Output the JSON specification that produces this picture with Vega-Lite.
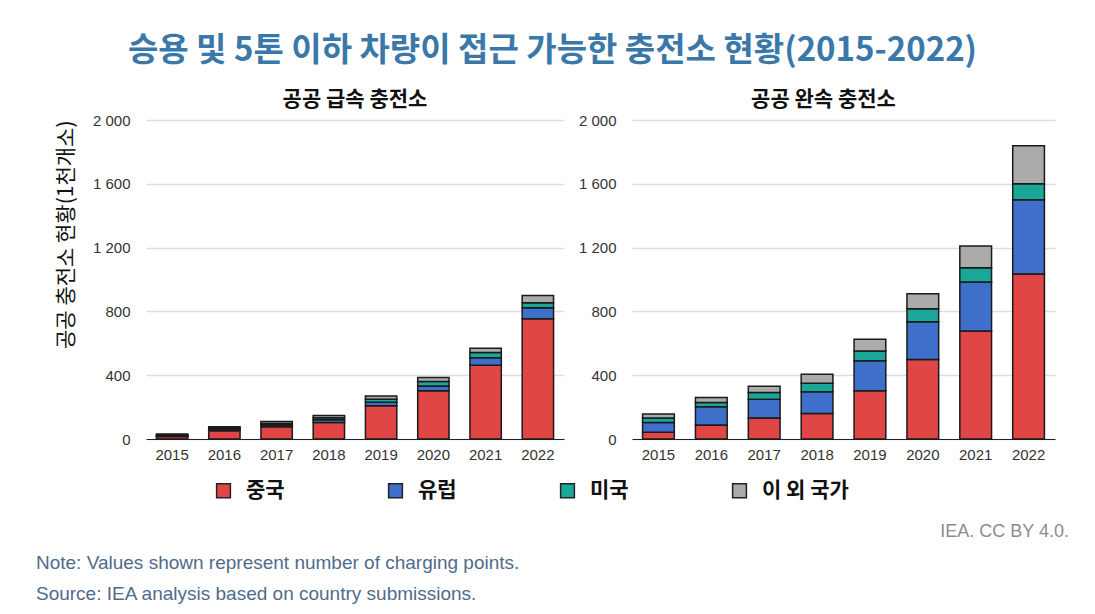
{
  "$schema": "https://vega.github.io/schema/vega-lite/v6.json",
  "background": "white",
  "padding": {"left": 35, "top": 35, "right": 5, "bottom": 5},
  "title": {
    "text": "승용 및 5톤 이하 차량이 접근 가능한 충전소 현황(2015-2022)",
    "font": "Noto Sans CJK KR",
    "fontSize": 33,
    "fontWeight": "bold",
    "color": "#3b78aa",
    "anchor": "middle",
    "offset": 21
  },
  "datasets": {
    "fast": [
      {"year": "2015", "region": "중국", "value": 16},
      {"year": "2015", "region": "유럽", "value": 5},
      {"year": "2015", "region": "미국", "value": 4},
      {"year": "2015", "region": "이 외 국가", "value": 6},
      {"year": "2016", "region": "중국", "value": 52},
      {"year": "2016", "region": "유럽", "value": 9},
      {"year": "2016", "region": "미국", "value": 6},
      {"year": "2016", "region": "이 외 국가", "value": 10},
      {"year": "2017", "region": "중국", "value": 77},
      {"year": "2017", "region": "유럽", "value": 11},
      {"year": "2017", "region": "미국", "value": 9},
      {"year": "2017", "region": "이 외 국가", "value": 13},
      {"year": "2018", "region": "중국", "value": 104},
      {"year": "2018", "region": "유럽", "value": 17},
      {"year": "2018", "region": "미국", "value": 12},
      {"year": "2018", "region": "이 외 국가", "value": 15},
      {"year": "2019", "region": "중국", "value": 208},
      {"year": "2019", "region": "유럽", "value": 22},
      {"year": "2019", "region": "미국", "value": 19},
      {"year": "2019", "region": "이 외 국가", "value": 20},
      {"year": "2020", "region": "중국", "value": 302},
      {"year": "2020", "region": "유럽", "value": 31},
      {"year": "2020", "region": "미국", "value": 27},
      {"year": "2020", "region": "이 외 국가", "value": 25},
      {"year": "2021", "region": "중국", "value": 462},
      {"year": "2021", "region": "유럽", "value": 48},
      {"year": "2021", "region": "미국", "value": 32},
      {"year": "2021", "region": "이 외 국가", "value": 27},
      {"year": "2022", "region": "중국", "value": 754},
      {"year": "2022", "region": "유럽", "value": 69},
      {"year": "2022", "region": "미국", "value": 31},
      {"year": "2022", "region": "이 외 국가", "value": 46}
    ],
    "slow": [
      {"year": "2015", "region": "중국", "value": 42},
      {"year": "2015", "region": "유럽", "value": 62},
      {"year": "2015", "region": "미국", "value": 27},
      {"year": "2015", "region": "이 외 국가", "value": 25},
      {"year": "2016", "region": "중국", "value": 87},
      {"year": "2016", "region": "유럽", "value": 115},
      {"year": "2016", "region": "미국", "value": 27},
      {"year": "2016", "region": "이 외 국가", "value": 31},
      {"year": "2017", "region": "중국", "value": 131},
      {"year": "2017", "region": "유럽", "value": 119},
      {"year": "2017", "region": "미국", "value": 42},
      {"year": "2017", "region": "이 외 국가", "value": 39},
      {"year": "2018", "region": "중국", "value": 160},
      {"year": "2018", "region": "유럽", "value": 136},
      {"year": "2018", "region": "미국", "value": 54},
      {"year": "2018", "region": "이 외 국가", "value": 56},
      {"year": "2019", "region": "중국", "value": 302},
      {"year": "2019", "region": "유럽", "value": 188},
      {"year": "2019", "region": "미국", "value": 62},
      {"year": "2019", "region": "이 외 국가", "value": 73},
      {"year": "2020", "region": "중국", "value": 498},
      {"year": "2020", "region": "유럽", "value": 237},
      {"year": "2020", "region": "미국", "value": 82},
      {"year": "2020", "region": "이 외 국가", "value": 93},
      {"year": "2021", "region": "중국", "value": 677},
      {"year": "2021", "region": "유럽", "value": 308},
      {"year": "2021", "region": "미국", "value": 88},
      {"year": "2021", "region": "이 외 국가", "value": 137},
      {"year": "2022", "region": "중국", "value": 1035},
      {"year": "2022", "region": "유럽", "value": 465},
      {"year": "2022", "region": "미국", "value": 100},
      {"year": "2022", "region": "이 외 국가", "value": 239}
    ],
    "footer": [
      {"line": 1, "kind": "credit", "text": "IEA. CC BY 4.0."},
      {"line": 2, "kind": "note", "text": "Note: Values shown represent number of charging points."},
      {"line": 3, "kind": "note", "text": "Source: IEA analysis based on country submissions."}
    ]
  },
  "vconcat": [
    {
      "hconcat": [
        {
          "width": 418,
          "height": 319,
          "title": {"text": "공공 급속 충전소"},
          "data": {"name": "fast"},
          "transform": [{"calculate": "indexof(['중국','유럽','미국','이 외 국가'], datum.region)", "as": "ord"}],
          "mark": {"type": "bar", "stroke": "#1a1a1a", "strokeWidth": 1.5},
          "encoding": {
            "x": {"field": "year", "type": "ordinal", "title": null,
                  "scale": {"paddingInner": 0.4, "paddingOuter": 0.2}},
            "y": {"field": "value", "type": "quantitative", "stack": "zero",
                  "scale": {"domain": [0, 2000]},
                  "axis": {"values": [0, 400, 800, 1200, 1600, 2000],
                           "labelExpr": "replace(format(datum.value, ','), ',', ' ')",
                           "title": "공공 충전소 현황(1천개소)",
                           "titleAnchor": "end",
                           "titlePadding": 16}},
            "order": {"field": "ord", "type": "quantitative", "sort": "ascending"},
            "color": {"field": "region", "type": "nominal",
                      "sort": ["중국", "유럽", "미국", "이 외 국가"],
                      "scale": {"domain": ["중국", "유럽", "미국", "이 외 국가"],
                                "range": ["#e04646", "#3e6fcb", "#19a898", "#ababab"]}}
          }
        },
        {
          "width": 423,
          "height": 319,
          "title": {"text": "공공 완속 충전소", "dx": -20},
          "data": {"name": "slow"},
          "transform": [{"calculate": "indexof(['중국','유럽','미국','이 외 국가'], datum.region)", "as": "ord"}],
          "mark": {"type": "bar", "stroke": "#1a1a1a", "strokeWidth": 1.5},
          "encoding": {
            "x": {"field": "year", "type": "ordinal", "title": null,
                  "scale": {"paddingInner": 0.4, "paddingOuter": 0.2}},
            "y": {"field": "value", "type": "quantitative", "stack": "zero",
                  "scale": {"domain": [0, 2000]},
                  "axis": {"values": [0, 400, 800, 1200, 1600, 2000],
                           "labelExpr": "replace(format(datum.value, ','), ',', ' ')",
                           "title": null}},
            "order": {"field": "ord", "type": "quantitative", "sort": "ascending"},
            "color": {"field": "region", "type": "nominal",
                      "sort": ["중국", "유럽", "미국", "이 외 국가"],
                      "scale": {"domain": ["중국", "유럽", "미국", "이 외 국가"],
                                "range": ["#e04646", "#3e6fcb", "#19a898", "#ababab"]}}
          }
        }
      ],
      "spacing": 14
    },
    {
      "width": 923,
      "height": 62,
      "data": {"name": "footer"},
      "encoding": {
        "y": {"field": "line", "type": "ordinal", "axis": null,
              "scale": {"type": "point", "padding": 0}},
        "text": {"field": "text"}
      },
      "layer": [
        {
          "transform": [{"filter": "datum.kind === 'credit'"}],
          "mark": {"type": "text", "align": "right", "baseline": "middle",
                   "font": "Liberation Sans", "fontSize": 18, "color": "#8c8c8c"},
          "encoding": {
            "x": {"datum": 1, "type": "quantitative", "scale": {"domain": [0.1065, 1], "nice": false, "zero": false}, "axis": null}
          }
        },
        {
          "transform": [{"filter": "datum.kind === 'note'"}],
          "mark": {"type": "text", "align": "left", "baseline": "middle",
                   "font": "Liberation Sans", "fontSize": 19, "color": "#4f6b8c"},
          "encoding": {
            "x": {"datum": 0, "type": "quantitative", "scale": {"domain": [0.1065, 1], "nice": false, "zero": false}, "axis": null}
          }
        }
      ]
    }
  ],
  "spacing": 61,
  "config": {
    "view": {"stroke": null},
    "title": {"font": "Noto Sans CJK KR", "fontSize": 21, "fontWeight": "bold", "color": "#111", "offset": 3},
    "axis": {"labelFont": "Liberation Sans", "labelFontSize": 15, "labelColor": "#333",
             "titleFont": "Noto Sans CJK KR", "titleFontSize": 21, "titleFontWeight": "normal", "titleColor": "#111"},
    "axisY": {"grid": true, "gridColor": "#dddddd", "gridWidth": 1.5, "domain": false, "ticks": false, "labelPadding": 16},
    "axisX": {"domain": true, "domainColor": "#222", "domainWidth": 1.2, "ticks": false, "labelAngle": 0, "labelPadding": 8},
    "legend": {
      "orient": "none",
      "legendX": 67,
      "legendY": 360,
      "direction": "horizontal",
      "title": null,
      "symbolType": "square",
      "symbolSize": 190,
      "symbolStrokeColor": "#222",
      "symbolStrokeWidth": 1.5,
      "labelFont": "Noto Sans CJK KR",
      "labelFontSize": 21,
      "labelFontWeight": "bold",
      "labelColor": "#111",
      "labelOffset": 12,
      "columnPadding": 100
    }
  }
}
